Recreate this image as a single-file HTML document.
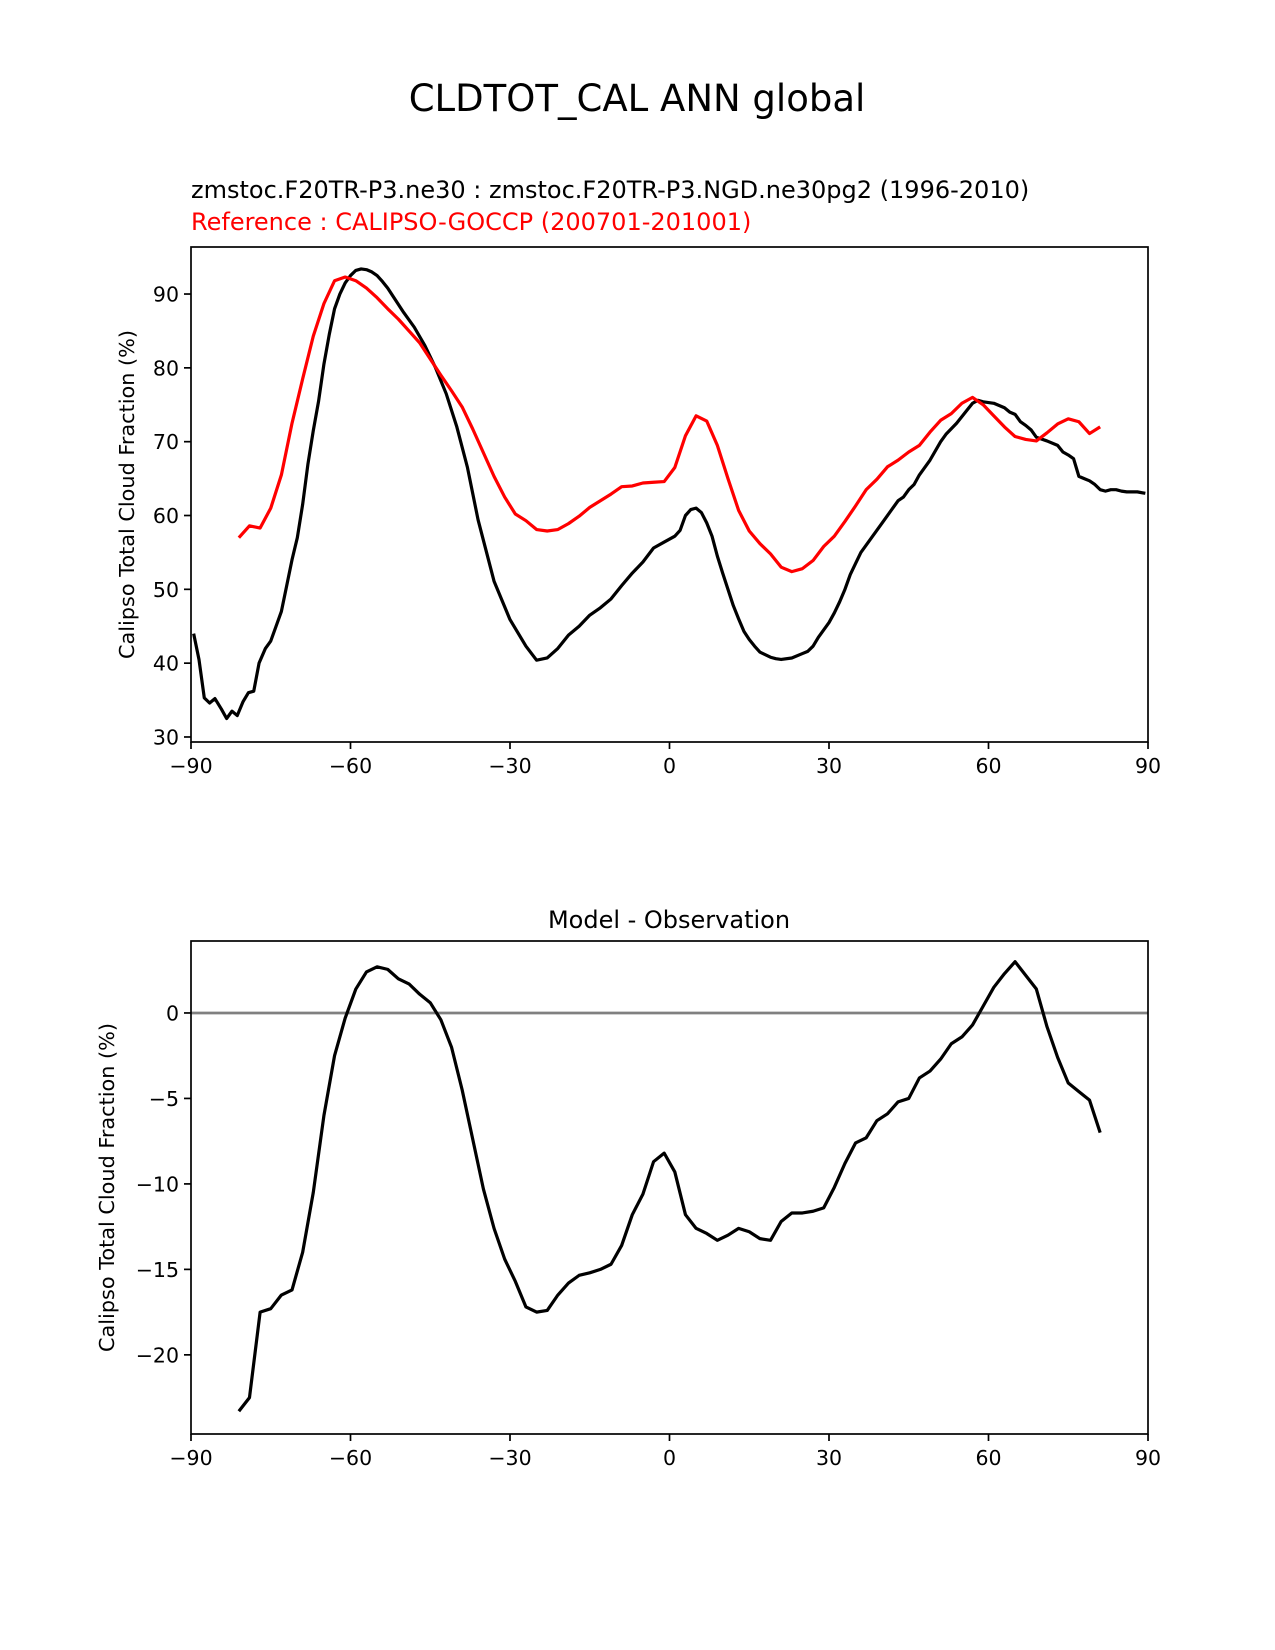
<!DOCTYPE html>
<html><head><meta charset="utf-8"><style>
html,body{margin:0;padding:0;background:#fff;}
svg{display:block;font-family:"DejaVu Sans","Liberation Sans",sans-serif;}
</style></head><body>
<svg id="chart" width="1275" height="1650" viewBox="0 0 1275 1650">
<text x="637" y="111" font-size="37" text-anchor="middle">CLDTOT_CAL ANN global</text>
<text x="191" y="198" font-size="24">zmstoc.F20TR-P3.ne30 : zmstoc.F20TR-P3.NGD.ne30pg2 (1996-2010)</text>
<text x="191" y="230" font-size="24" fill="#ff0000">Reference : CALIPSO-GOCCP (200701-201001)</text>
<text x="669" y="928" font-size="24" text-anchor="middle">Model - Observation</text>
<g id="top"></g>
<g id="bot"></g>
</svg>
<script>
const modelLat=[-89.5,-88.5,-87.5,-86.5,-85.5,-84.3,-83.3,-82.3,-81.3,-80.2,-79.2,-78.2,-77.2,-76,-75,-74,-73,-72,-71,-70,-69,-68,-67,-66,-65,-64,-63,-62,-61,-60,-59,-58,-57,-56,-55,-54,-53,-52,-51,-50,-48,-46,-44,-42,-40,-38,-36,-33,-30,-27,-25,-23,-21,-19,-17,-15,-13,-11,-9,-7,-5,-3,-1,1,2,3,4,5,6,7,8,9,10,11,12,13,14,15,16,17,19,20,21,23,25,26,27,28,30,31,32,33,34,35,36,38,40,42,43,44,45,46,47,49,51,52,54,56,57,58,59,61,63,64,65,66,67,68,69,71,73,74,75,76,77,78,79,80,81,82,83,84,85,86,87,88,89.5];
const modelVal=[44,40.5,35.3,34.6,35.2,33.8,32.5,33.5,32.9,34.8,36,36.2,40,42,43,45,47,50.5,54,57,61.5,67,71.5,75.5,80.5,84.5,88,90,91.5,92.5,93.2,93.4,93.3,93,92.5,91.7,90.8,89.7,88.6,87.5,85.5,83,80,76.5,72,66.5,59.4,51.1,45.9,42.3,40.4,40.7,42,43.8,45,46.5,47.5,48.7,50.5,52.2,53.7,55.6,56.4,57.2,58,60,60.8,61,60.4,59,57.2,54.5,52.2,50,47.8,46,44.3,43.2,42.3,41.5,40.8,40.6,40.5,40.7,41.3,41.6,42.3,43.5,45.5,46.8,48.3,50,52,53.5,55,57,59,61,62,62.5,63.5,64.2,65.5,67.5,70,71,72.5,74.3,75.2,75.6,75.4,75.2,74.6,74,73.7,72.7,72.2,71.6,70.6,70.1,69.5,68.6,68.2,67.7,65.3,65,64.7,64.2,63.5,63.3,63.5,63.5,63.3,63.2,63.2,63.2,63.0];
const obsLat=[-81,-79,-77,-75,-73,-71,-69,-67,-65,-63,-61,-59,-57,-55,-53,-51,-49,-47,-45,-43,-41,-39,-37,-35,-33,-31,-29,-27,-25,-23,-21,-19,-17,-15,-13,-11,-9,-7,-5,-3,-1,1,3,5,7,9,11,13,15,17,19,21,23,25,27,29,31,33,35,37,39,41,43,45,47,49,51,53,55,57,59,61,63,65,67,69,71,73,75,77,79,81];
const obsVal=[57,58.6,58.3,61,65.5,72.5,78.5,84.3,88.7,91.8,92.3,91.8,90.8,89.5,88,86.6,85,83.4,81.2,79,76.9,74.7,71.7,68.5,65.3,62.5,60.2,59.3,58.1,57.9,58.1,58.9,59.9,61.1,62,62.9,63.9,64,64.4,64.5,64.6,66.5,70.8,73.5,72.8,69.5,65,60.7,57.9,56.2,54.8,53,52.4,52.8,53.9,55.8,57.2,59.2,61.3,63.5,64.9,66.6,67.5,68.6,69.5,71.3,72.9,73.8,75.2,76,75,73.5,72,70.7,70.3,70.1,71.2,72.4,73.1,72.7,71.1,72];
const diffVal=[-23.3,-22.5,-17.5,-17.3,-16.5,-16.2,-14,-10.5,-6,-2.5,-0.3,1.4,2.4,2.7,2.55,2,1.7,1.1,0.6,-0.4,-2,-4.5,-7.4,-10.3,-12.6,-14.4,-15.7,-17.2,-17.5,-17.4,-16.5,-15.8,-15.35,-15.2,-15,-14.7,-13.6,-11.8,-10.6,-8.7,-8.2,-9.3,-11.8,-12.6,-12.9,-13.3,-13,-12.6,-12.8,-13.2,-13.3,-12.2,-11.7,-11.7,-11.6,-11.4,-10.2,-8.8,-7.6,-7.3,-6.3,-5.9,-5.2,-5,-3.8,-3.4,-2.7,-1.8,-1.4,-0.7,0.4,1.5,2.3,3,2.2,1.4,-0.8,-2.6,-4.1,-4.6,-5.1,-7];
const xTicks=[-90,-60,-30,0,30,60,90];
const topYTicks=[30,40,50,60,70,80,90];
const botYTicks=[-20,-15,-10,-5,0];
const NS="http://www.w3.org/2000/svg";
function mk(parent,tag,attrs){const e=document.createElementNS(NS,tag);for(const k in attrs)e.setAttribute(k,attrs[k]);parent.appendChild(e);return e;}
const L=191,R=1148;
const xs=v=>L+(v+90)/180*(R-L);
function panel(g,top,bot,ymin,ymax,yTicks,yfmt,ylabelX,tag){
  const ys=v=>bot-(v-ymin)/(ymax-ymin)*(bot-top);
  xTicks.forEach(t=>{
    const l=mk(g,'line',{x1:xs(t),x2:xs(t),y1:bot,y2:bot+7,stroke:'#000','stroke-width':1.7});
    
    
    const tx=mk(g,'text',{x:xs(t),y:bot+31,'font-size':20.5,'text-anchor':'middle'});
    tx.textContent=t<0?'\u2212'+(-t):String(t);
    
    
  });
  yTicks.forEach(t=>{
    const l=mk(g,'line',{x1:L-7,x2:L,y1:ys(t),y2:ys(t),stroke:'#000','stroke-width':1.7});
    
    
    const tx=mk(g,'text',{x:L-12,y:ys(t)+7.5,'font-size':20.5,'text-anchor':'end'});
    tx.textContent=yfmt(t);
    
    
  });
  const cy=(top+bot)/2;
  const yl=mk(g,'text',{x:ylabelX,y:cy,'font-size':20.8,'text-anchor':'middle',transform:`rotate(-90 ${ylabelX} ${cy})`});
  yl.textContent='Calipso Total Cloud Fraction (%)';
  
  
  return ys;
}
function line(g,lat,val,xs,ys,color,name){
  const p=mk(g,'polyline',{points:lat.map((a,i)=>xs(a)+','+ys(val[i])).join(' '),fill:'none',stroke:color,'stroke-width':3.2,'stroke-linejoin':'round'});
  
  
}
const gt=document.getElementById('top');
const ysT=panel(gt,247,742,29.32,96.37,topYTicks,t=>String(t),134,'top');
line(gt,modelLat,modelVal,xs,ysT,'#000','model-line');
line(gt,obsLat,obsVal,xs,ysT,'#ff0000','reference-line');
const f1=mk(gt,'rect',{x:L,y:247,width:R-L,height:495,fill:'none',stroke:'#000','stroke-width':1.7});


const gb=document.getElementById('bot');
const ysB=panel(gb,941,1434,-24.63,4.21,botYTicks,t=>t<0?'\u2212'+(-t):String(t),114,'bottom');
const z=mk(gb,'line',{x1:L,x2:R,y1:ysB(0),y2:ysB(0),stroke:'#808080','stroke-width':2.8});


line(gb,obsLat,diffVal,xs,ysB,'#000','difference-line');
const f2=mk(gb,'rect',{x:L,y:941,width:R-L,height:493,fill:'none',stroke:'#000','stroke-width':1.7});


</script>
</body></html>
